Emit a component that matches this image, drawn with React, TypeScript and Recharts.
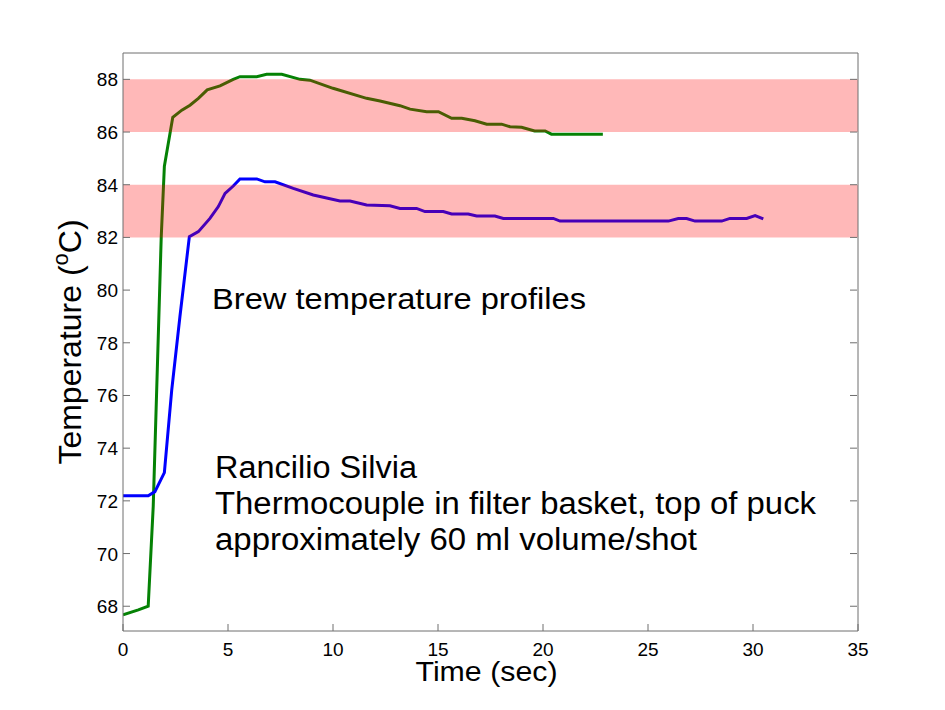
import React from "react";
import { LineChart, Line, XAxis, YAxis, ReferenceArea } from "recharts";

// tick values
const timeTicks = [0, 5, 10, 15, 20, 25, 30, 35];
const tempTicks = [68, 70, 72, 74, 76, 78, 80, 82, 84, 86, 88];

// target bands (deg C)
const bandLow = [86, 82];
const bandHigh = [88, 84];

// green profile
const greenTime = [
  0, 0.73, 1.2, 1.44, 1.82, 1.97, 2.37, 2.8, 3.19, 3.59, 4.01, 4.62, 5.25, 5.57,
  6.37, 6.84, 7.56, 8.43, 8.9, 10.0, 11.6, 12.24, 13.19, 13.67, 14.46, 15.02,
  15.65, 16.13, 16.76, 17.32, 18.03, 18.43, 18.98, 19.6, 20.1, 20.4, 22.85,
];
const greenTemp = [
  67.67, 67.86, 68.0, 71.8, 82.0, 84.7, 86.56, 86.83, 87.02, 87.28, 87.6, 87.75,
  88.0, 88.1, 88.1, 88.19, 88.19, 88.0, 87.97, 87.66, 87.28, 87.18, 87.0, 86.87,
  86.77, 86.77, 86.52, 86.52, 86.43, 86.3, 86.3, 86.2, 86.18, 86.04, 86.04,
  85.92, 85.92,
];

// blue profile
const blueTime = [
  0, 1.2, 1.52, 1.97, 2.32, 2.71, 3.16, 3.59, 4.14, 4.54, 4.86, 5.25, 5.57, 6.37,
  6.76, 7.24, 8.11, 9.06, 10.33, 10.81, 11.6, 12.71, 13.19, 13.98, 14.38, 15.25,
  15.65, 16.44, 16.84, 17.71, 18.11, 20.49, 20.81, 25.97, 26.44, 26.84, 27.24,
  28.51, 28.9, 29.7, 30.1, 30.49,
];
const blueTemp = [
  72.19, 72.19, 72.35, 73.07, 76.2, 78.99, 82.03, 82.22, 82.72, 83.17, 83.67,
  83.95, 84.22, 84.22, 84.11, 84.11, 83.86, 83.61, 83.38, 83.38, 83.23, 83.2,
  83.1, 83.1, 82.98, 82.98, 82.89, 82.89, 82.81, 82.81, 82.72, 82.72, 82.62,
  82.62, 82.72, 82.72, 82.62, 82.62, 82.72, 82.72, 82.83, 82.7,
];

const notes = [
  "Rancilio Silvia",
  "Thermocouple in filter basket, top of puck",
  "approximately 60 ml volume/shot",
];
const noteWidths = [202, 601, 482];

const greenData = greenTime.map((t, i) => ({ t, temp: greenTemp[i] }));
const blueData = blueTime.map((t, i) => ({ t, temp: blueTemp[i] }));

const axisColor = "#6e6e6e";
const sans = "'Liberation Sans', Arial, sans-serif";
const narrow = "'Liberation Sans Narrow', 'Arial Narrow', 'Liberation Sans', Arial, sans-serif";

const BottomTick = ({ x, y, payload }: any) => (
  <g>
    <line x1={x} y1={y} x2={x} y2={y - 7} stroke={axisColor} strokeWidth={1} />
    <text x={x} y={y + 25} textAnchor="middle" fontFamily={narrow} fontSize={19} fill="#000">
      {payload.value}
    </text>
  </g>
);

const TopTick = ({ x, y }: any) => (
  <line x1={x} y1={y + 1} x2={x} y2={y + 8} stroke={axisColor} strokeWidth={1} />
);

const LeftTick = ({ x, y, payload }: any) => (
  <g>
    <line x1={x} y1={y} x2={x + 7} y2={y} stroke={axisColor} strokeWidth={1} />
    <text x={x - 5} y={y + 7} textAnchor="end" fontFamily={narrow} fontSize={19} fill="#000">
      {payload.value}
    </text>
  </g>
);

const RightTick = ({ x, y }: any) => (
  <line x1={x - 1} y1={y} x2={x - 8} y2={y} stroke={axisColor} strokeWidth={1} />
);

const TimeLabel = ({ viewBox }: any) => (
  <text
    x={viewBox.x + viewBox.width / 2 - 4}
    y={viewBox.y + 50}
    textAnchor="middle"
    fontFamily={sans}
    fontSize={28}
    textLength={142}
    lengthAdjust="spacingAndGlyphs"
    fill="#000"
  >
    Time (sec)
  </text>
);

const TempLabel = ({ viewBox }: any) => {
  const cx = 81;
  const cy = viewBox.y + viewBox.height / 2;
  return (
    <text
      x={cx}
      y={cy}
      transform={`rotate(-90 ${cx} ${cy})`}
      textAnchor="middle"
      fontFamily={sans}
      fontSize={32}
      fill="#000"
    >
      <tspan>Temperature (</tspan>
      <tspan fontSize={22} dy={-13}>o</tspan>
      <tspan dy={13}>C)</tspan>
    </text>
  );
};

export default function App() {
  return (
    <div style={{ position: "absolute", left: 0, top: 0, width: 945, height: 710, background: "#fff" }}>
      <LineChart width={945} height={710} margin={{ top: 52, right: 86, bottom: 0, left: 0 }}>
        <XAxis
          dataKey="t"
          type="number"
          domain={[0, 35]}
          ticks={timeTicks}
          allowDataOverflow
          height={79}
          tickSize={0}
          tickMargin={0}
          tickLine={false}
          stroke={axisColor}
          tick={BottomTick}
          label={{ content: TimeLabel }}
        />
        <XAxis
          xAxisId="top"
          orientation="top"
          type="number"
          domain={[0, 35]}
          ticks={timeTicks}
          allowDataOverflow
          height={1}
          tickSize={0}
          tickMargin={0}
          tickLine={false}
          stroke={axisColor}
          tick={TopTick}
        />
        <YAxis
          type="number"
          domain={[67.06, 89]}
          ticks={tempTicks}
          allowDataOverflow
          width={123}
          tickSize={0}
          tickMargin={0}
          tickLine={false}
          stroke={axisColor}
          tick={LeftTick}
          label={{ content: TempLabel }}
        />
        <YAxis
          yAxisId="right"
          orientation="right"
          type="number"
          domain={[67.06, 89]}
          ticks={tempTicks}
          allowDataOverflow
          width={1}
          tickSize={0}
          tickMargin={0}
          tickLine={false}
          stroke={axisColor}
          tick={RightTick}
        />
        <Line
          data={greenData}
          dataKey="temp"
          type="linear"
          stroke="#058205"
          strokeWidth={3}
          dot={false}
          isAnimationActive={false}
        />
        <Line
          data={blueData}
          dataKey="temp"
          type="linear"
          stroke="#0000ff"
          strokeWidth={3}
          dot={false}
          isAnimationActive={false}
        />
        {bandLow.map((lo, i) => (
          <ReferenceArea
            key={i}
            x1={0}
            x2={35}
            y1={lo}
            y2={bandHigh[i]}
            fill="#ff0000"
            fillOpacity={0.28}
            stroke="none"
            zIndex={450}
          />
        ))}
      </LineChart>
      <svg
        width={945}
        height={710}
        style={{ position: "absolute", left: 0, top: 0, pointerEvents: "none" }}
      >
        <text x={212} y={309} fontFamily={sans} fontSize={29} textLength={374} lengthAdjust="spacingAndGlyphs" fill="#000">
          Brew temperature profiles
        </text>
        {notes.map((s, i) => (
          <text
            key={i}
            x={215}
            y={478 + i * 36}
            fontFamily={sans}
            fontSize={31}
            textLength={noteWidths[i]}
            lengthAdjust="spacingAndGlyphs"
            fill="#000"
          >
            {s}
          </text>
        ))}
      </svg>
    </div>
  );
}
